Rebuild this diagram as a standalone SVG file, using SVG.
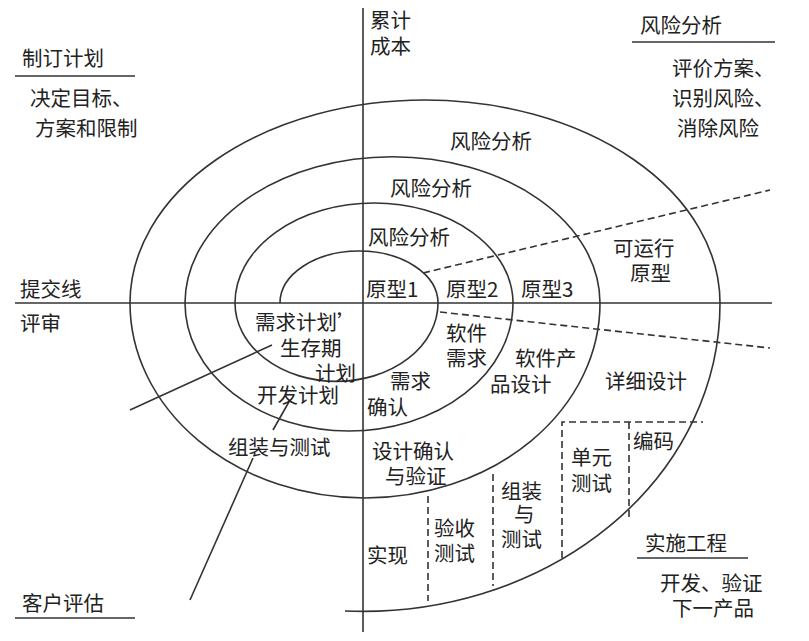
<svg xmlns="http://www.w3.org/2000/svg" width="809" height="641" viewBox="0 0 809 641">
<style>
text{font-family:"Noto Sans CJK SC","Liberation Sans",sans-serif;font-size:20.5px;fill:#222}
.l{fill:none;stroke:#333;stroke-width:1.6}
.d{fill:none;stroke:#333;stroke-width:1.6;stroke-dasharray:7 4}
</style>
<rect width="809" height="641" fill="#fff"/>
<g id="connectors">
<line class="l" x1="363" y1="8" x2="363" y2="632"/>
<line class="l" x1="15" y1="303" x2="772" y2="303"/>
<path class="l" d="M280,303 A79,52 0 0 1 438,303 A101,78 0 0 1 235,303 A139,100 0 0 1 513,303 A164,128 0 0 1 185,303 A207,146 0 0 1 600,303 A235,195 0 0 1 130,303 A295,203 0 0 1 720,303 A357,308 0 0 1 345,611"/>
<line class="d" x1="423" y1="273" x2="770" y2="190"/>
<line class="d" x1="440" y1="312" x2="770" y2="348"/>
<polyline class="d" points="562,558 562,422 703,422"/>
<line class="d" x1="629" y1="422" x2="629" y2="517"/>
<line class="d" x1="493" y1="474" x2="493" y2="586"/>
<line class="d" x1="428" y1="496" x2="428" y2="601"/>
<line class="l" x1="272" y1="345" x2="130" y2="410"/>
<line class="l" x1="290" y1="400" x2="273" y2="430"/>
<line class="l" x1="253" y1="458" x2="190" y2="600"/>
<line class="l" x1="15" y1="76" x2="135" y2="76"/>
<line class="l" x1="632" y1="42" x2="775" y2="42"/>
<line class="l" x1="637" y1="558" x2="748" y2="558"/>
<line class="l" x1="15" y1="618" x2="135" y2="618"/>
</g>
<g id="labels">
<text x="370" y="28">累计</text><text x="370" y="54">成本</text>
<text x="22" y="66">制订计划</text>
<text x="30" y="106">决定目标、</text><text x="35" y="136">方案和限制</text>
<text x="640" y="33">风险分析</text>
<text x="672" y="76">评价方案、</text><text x="672" y="106">识别风险、</text><text x="677" y="136">消除风险</text>
<text x="450" y="149">风险分析</text><text x="390" y="196">风险分析</text><text x="368" y="245">风险分析</text>
<text x="613" y="256">可运行</text><text x="630" y="281">原型</text>
<text x="20" y="297">提交线</text><text x="20" y="331">评审</text>
<text x="366" y="297">原型1</text><text x="446" y="297">原型2</text><text x="521" y="297">原型3</text>
<text x="255" y="330">需求计划’</text><text x="280" y="356">生存期</text><text x="315" y="381">计划</text>
<text x="257" y="403">开发计划</text>
<text x="446" y="341">软件</text><text x="446" y="366">需求</text>
<text x="390" y="389">需求</text><text x="367" y="415">确认</text>
<text x="515" y="366">软件产</text><text x="490" y="392">品设计</text>
<text x="605" y="389">详细设计</text>
<text x="228" y="455">组装与测试</text>
<text x="372" y="459">设计确认</text><text x="385" y="484">与验证</text>
<text x="633" y="449">编码</text>
<text x="571" y="465">单元</text><text x="571" y="491">测试</text>
<text x="501" y="499">组装</text><text x="514" y="522">与</text><text x="501" y="547">测试</text>
<text x="434" y="536">验收</text><text x="434" y="561">测试</text>
<text x="367" y="563">实现</text>
<text x="645" y="551">实施工程</text>
<text x="660" y="591">开发、验证</text><text x="672" y="616">下一产品</text>
<text x="22" y="611">客户评估</text>
</g>
</svg>
